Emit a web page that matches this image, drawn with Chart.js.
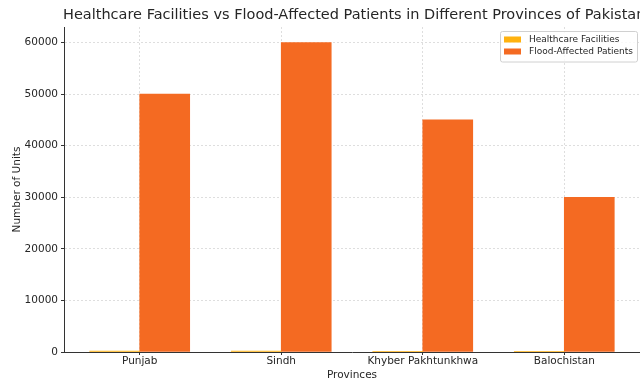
<!DOCTYPE html>
<html>
<head>
<meta charset="utf-8">
<script src="https://cdn.jsdelivr.net/npm/chart.js@4"></script>
<style>
  html, body { margin: 0; padding: 0; background: #fff; }
  #wrap { width: 640px; height: 381px; position: relative; }
</style>
</head>
<body>
<div id="wrap"><canvas id="myChart"></canvas></div>
<script>
const chartTitle = "Healthcare Facilities vs Flood-Affected Patients in Different Provinces of Pakistan";
const provinces = ["Punjab", "Sindh", "Khyber Pakhtunkhwa", "Balochistan"];
const healthcareFacilities = [200, 180, 50, 30];
const floodAffectedPatients = [50000, 60000, 45000, 30000];
const yTicks = [0, 10000, 20000, 30000, 40000, 50000, 60000];

const FONT = "'DejaVu Sans', sans-serif";
const TEXT = "#262626";
const gridColor = "rgba(0,0,0,0.13)";

// title drawn from the left edge of the plot (matplotlib style, cut off at the right)
const titlePlugin = {
  id: "leftTitle",
  afterDraw(chart) {
    const ctx = chart.ctx;
    ctx.save();
    ctx.font = "14.5px " + FONT;
    ctx.fillStyle = TEXT;
    ctx.textBaseline = "middle";
    ctx.textAlign = "left";
    ctx.fillText(chartTitle, chart.chartArea.left - 1, 15);
    ctx.restore();
  }
};

// boxed legend in the upper right corner
const legendPlugin = {
  id: "boxLegend",
  afterDraw(chart) {
    const ctx = chart.ctx;
    const x = 500, y = 31.5, w = 137, h = 30.5;
    ctx.save();
    ctx.fillStyle = "rgba(255,255,255,0.8)";
    ctx.strokeStyle = "#d0d0d0";
    ctx.lineWidth = 1;
    ctx.beginPath();
    ctx.roundRect(x + 0.5, y, w, h, 2);
    ctx.fill();
    ctx.stroke();
    ctx.font = "9px " + FONT;
    ctx.textBaseline = "middle";
    ctx.textAlign = "left";
    chart.data.datasets.forEach((ds, i) => {
      const cy = 39.5 + i * 12;
      ctx.fillStyle = ds.backgroundColor;
      ctx.fillRect(504, cy - 3, 17, 6);
      ctx.fillStyle = TEXT;
      ctx.fillText(ds.label, 529, cy);
    });
    ctx.restore();
  }
};

const ctx = document.getElementById("myChart").getContext("2d");
new Chart(ctx, {
  type: "bar",
  data: {
    datasets: [
      {
        label: "Healthcare Facilities",
        data: healthcareFacilities.map((v, i) => ({ x: i, y: v })),
        backgroundColor: "#ffb20f"
      },
      {
        label: "Flood-Affected Patients",
        data: floodAffectedPatients.map((v, i) => ({ x: i, y: v })),
        backgroundColor: "#f46a22"
      }
    ]
  },
  options: {
    responsive: true,
    maintainAspectRatio: false,
    animation: false,
    barThickness: 50,
    layout: { padding: { top: 27, right: 0, left: 0, bottom: 0 } },
    plugins: {
      legend: { display: false },
      title: { display: false },
      tooltip: { enabled: false }
    },
    scales: {
      x: {
        type: "linear",
        offset: false,
        min: -0.535,
        max: 3.535,
        afterBuildTicks: s => { s.ticks = provinces.map((_, i) => ({ value: i })); },
        afterFit: s => { s.height = 29; },
        ticks: {
          autoSkip: false,
          maxRotation: 0,
          padding: 0,
          color: TEXT,
          font: { family: FONT, size: 10.5 },
          callback: v => provinces[v]
        },
        grid: { offset: false, color: gridColor, tickColor: "#333", tickLength: 3 },
        border: { color: "#333", width: 1, dash: [2, 2] },
        title: {
          display: true,
          text: "Provinces",
          color: TEXT,
          font: { family: FONT, size: 10.5 },
          padding: { top: 0, bottom: -1 }
        }
      },
      y: {
        min: 0,
        max: 63000,
        afterBuildTicks: s => { s.ticks = yTicks.map(v => ({ value: v })); },
        afterFit: s => { s.width = 64; },
        ticks: {
          padding: 3,
          color: TEXT,
          font: { family: FONT, size: 10.5 },
          callback: v => String(v)
        },
        grid: { color: gridColor, tickColor: "#333", tickLength: 3 },
        border: { color: "#333", width: 1, dash: [2, 2] },
        title: {
          display: true,
          text: "Number of Units",
          color: TEXT,
          font: { family: FONT, size: 10.5 },
          padding: { top: 11, bottom: 0 }
        }
      }
    }
  },
  plugins: [titlePlugin, legendPlugin]
});
</script>
</body>
</html>
